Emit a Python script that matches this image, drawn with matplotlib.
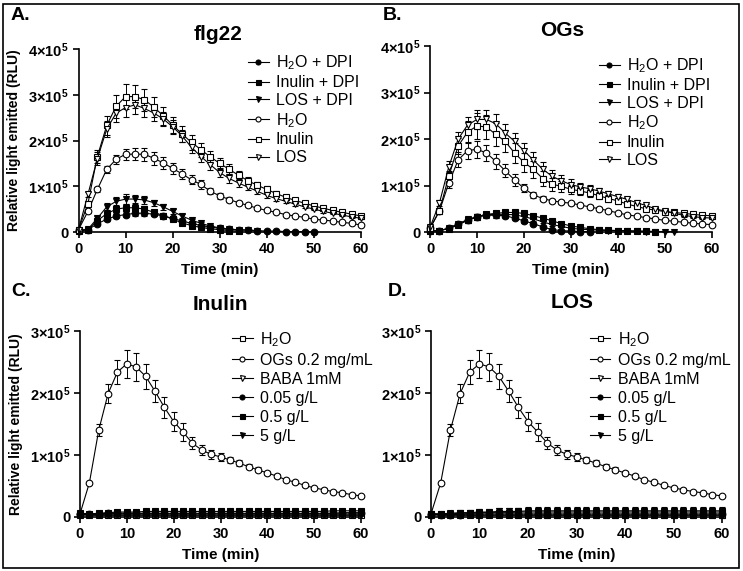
import matplotlib
matplotlib.use('Agg')
import matplotlib.pyplot as plt
from matplotlib.patches import Rectangle
from matplotlib.lines import Line2D

plt.rcParams['font.family'] = ['Liberation Sans', 'DejaVu Sans']
plt.rcParams['mathtext.fontset'] = 'custom'
plt.rcParams['mathtext.rm'] = 'Liberation Sans'
plt.rcParams['mathtext.bf'] = 'Liberation Sans:bold'
plt.rcParams['mathtext.default'] = 'regular'

# time axis (min), values in units of 1e5 RLU
times = list(range(0, 61, 2))

# ---- panel A: flg22 ----
A_h2o_dpi = [0.03, 0.05, 0.18, 0.28, 0.35, 0.38, 0.41, 0.41, 0.39, 0.35, 0.30, 0.24, 0.19,
             0.14, 0.11, 0.08, 0.06, 0.05, 0.04, 0.03, 0.02, 0.02, 0.01, 0.01, 0.01, 0.00]
A_h2o_dpi_err = [0.01, 0.01, 0.03, 0.04, 0.05, 0.05, 0.05, 0.05, 0.05, 0.04, 0.04, 0.03, 0.03,
                 0.02, 0.02, 0.01, 0.01, 0.01, 0.01, 0.01, 0.01, 0.01, 0.01, 0.01, 0.01, 0.01]
A_inu_dpi = [0.03, 0.05, 0.25, 0.40, 0.50, 0.53, 0.53, 0.50, 0.43, 0.36, 0.28, 0.20, 0.14,
             0.10, 0.07, 0.05, 0.03, 0.02]
A_inu_dpi_err = [0.01, 0.01, 0.05, 0.07, 0.08, 0.08, 0.08, 0.07, 0.06, 0.05, 0.04, 0.03, 0.02,
                 0.02, 0.01, 0.01, 0.01, 0.01]
A_los_dpi = [0.03, 0.06, 0.30, 0.55, 0.67, 0.72, 0.72, 0.70, 0.64, 0.55, 0.45, 0.35, 0.26,
             0.19, 0.13, 0.09, 0.06, 0.05, 0.04, 0.03]
A_los_dpi_err = [0.01, 0.01, 0.05, 0.08, 0.10, 0.10, 0.09, 0.08, 0.07, 0.06, 0.05, 0.04, 0.03,
                 0.02, 0.02, 0.01, 0.01, 0.01, 0.01, 0.01]
A_h2o = [0.05, 0.45, 0.93, 1.37, 1.59, 1.70, 1.70, 1.70, 1.61, 1.51, 1.39, 1.27, 1.14, 1.04,
         0.89, 0.79, 0.71, 0.64, 0.58, 0.52, 0.47, 0.43, 0.38, 0.35, 0.32, 0.28, 0.26, 0.24,
         0.21, 0.19, 0.15]
A_h2o_err = [0.01, 0.03, 0.06, 0.08, 0.10, 0.12, 0.13, 0.14, 0.14, 0.13, 0.12, 0.11, 0.10,
             0.09, 0.07, 0.06, 0.05, 0.04, 0.03, 0.03, 0.03, 0.02, 0.02, 0.02, 0.02, 0.02,
             0.01, 0.01, 0.01, 0.01, 0.01]
A_inu = [0.05, 0.62, 1.65, 2.33, 2.75, 2.96, 2.96, 2.89, 2.73, 2.54, 2.34, 2.14, 1.96, 1.80,
         1.64, 1.50, 1.37, 1.24, 1.12, 1.02, 0.93, 0.84, 0.76, 0.69, 0.63, 0.57, 0.52, 0.47,
         0.43, 0.39, 0.35]
A_inu_err = [0.01, 0.05, 0.15, 0.20, 0.25, 0.27, 0.26, 0.24, 0.22, 0.20, 0.18, 0.17, 0.16,
             0.15, 0.14, 0.12, 0.11, 0.10, 0.09, 0.08, 0.07, 0.06, 0.05, 0.05, 0.04, 0.04,
             0.03, 0.03, 0.03, 0.02, 0.02]
A_los = [0.05, 0.82, 1.60, 2.25, 2.60, 2.72, 2.78, 2.70, 2.60, 2.47, 2.30, 2.10, 1.85, 1.65,
         1.47, 1.30, 1.17, 1.07, 0.98, 0.89, 0.80, 0.73, 0.67, 0.61, 0.55, 0.50, 0.45, 0.41,
         0.37, 0.33, 0.30]
A_los_err = [0.01, 0.05, 0.14, 0.18, 0.20, 0.20, 0.19, 0.18, 0.17, 0.16, 0.15, 0.14, 0.13,
             0.12, 0.11, 0.10, 0.09, 0.08, 0.07, 0.06, 0.05, 0.05, 0.04, 0.04, 0.03, 0.03,
             0.03, 0.02, 0.02, 0.02, 0.02]

# ---- panel B: OGs ----
B_h2o_dpi = [0.02, 0.03, 0.08, 0.18, 0.25, 0.32, 0.36, 0.36, 0.35, 0.30, 0.24, 0.18, 0.11,
             0.05, 0.03, 0.02, 0.01, 0.01]
B_h2o_dpi_err = [0.01, 0.01, 0.02, 0.04, 0.05, 0.06, 0.06, 0.06, 0.05, 0.05, 0.04, 0.03, 0.02,
                 0.01, 0.01, 0.01, 0.01, 0.01]
B_inu_dpi = [0.02, 0.03, 0.07, 0.15, 0.25, 0.33, 0.38, 0.40, 0.42, 0.42, 0.40, 0.35, 0.30,
             0.24, 0.18, 0.13, 0.10, 0.07, 0.05, 0.04, 0.03, 0.03, 0.02, 0.02, 0.01]
B_inu_dpi_err = [0.01, 0.01, 0.02, 0.04, 0.05, 0.06, 0.06, 0.06, 0.05, 0.05, 0.04, 0.04, 0.03,
                 0.03, 0.02, 0.02, 0.01, 0.01, 0.01, 0.01, 0.01, 0.01, 0.01, 0.01, 0.01]
B_los_dpi = [0.02, 0.03, 0.08, 0.17, 0.27, 0.33, 0.37, 0.38, 0.38, 0.37, 0.33, 0.28, 0.22,
             0.16, 0.12, 0.08, 0.06, 0.05, 0.04, 0.03, 0.03, 0.02, 0.02, 0.01, 0.01, 0.01, 0.01]
B_los_dpi_err = [0.01, 0.01, 0.02, 0.04, 0.05, 0.06, 0.07, 0.07, 0.06, 0.05, 0.05, 0.04, 0.03,
                 0.03, 0.02, 0.02, 0.01, 0.01, 0.01, 0.01, 0.01, 0.01, 0.01, 0.01, 0.01, 0.01, 0.01]
B_h2o = [0.08, 0.45, 1.05, 1.55, 1.75, 1.78, 1.70, 1.52, 1.32, 1.12, 0.94, 0.80, 0.72, 0.67,
         0.64, 0.62, 0.58, 0.54, 0.50, 0.46, 0.41, 0.37, 0.34, 0.31, 0.28, 0.25, 0.23, 0.21,
         0.19, 0.17, 0.16]
B_h2o_err = [0.02, 0.06, 0.10, 0.16, 0.18, 0.18, 0.17, 0.16, 0.14, 0.12, 0.09, 0.07, 0.05,
             0.04, 0.04, 0.03, 0.03, 0.03, 0.03, 0.02, 0.02, 0.02, 0.02, 0.02, 0.02, 0.02,
             0.01, 0.01, 0.01, 0.01, 0.01]
B_inu = [0.08, 0.45, 1.20, 1.85, 2.15, 2.28, 2.26, 2.10, 1.95, 1.70, 1.50, 1.35, 1.15, 1.03,
         0.98, 0.92, 0.88, 0.84, 0.78, 0.72, 0.67, 0.60, 0.55, 0.50, 0.47, 0.44, 0.42, 0.40,
         0.38, 0.36, 0.35]
B_inu_err = [0.02, 0.05, 0.12, 0.18, 0.24, 0.27, 0.26, 0.25, 0.24, 0.22, 0.20, 0.18, 0.16,
             0.14, 0.12, 0.10, 0.09, 0.08, 0.07, 0.07, 0.06, 0.06, 0.05, 0.05, 0.04, 0.04,
             0.04, 0.03, 0.03, 0.03, 0.03]
B_los = [0.10, 0.62, 1.40, 2.00, 2.30, 2.42, 2.42, 2.33, 2.13, 1.95, 1.75, 1.55, 1.35, 1.20,
         1.10, 1.02, 0.97, 0.93, 0.88, 0.82, 0.76, 0.70, 0.63, 0.57, 0.50, 0.45, 0.40, 0.36,
         0.33, 0.31, 0.30]
B_los_err = [0.02, 0.06, 0.12, 0.16, 0.18, 0.20, 0.20, 0.20, 0.19, 0.18, 0.17, 0.16, 0.15,
             0.14, 0.12, 0.11, 0.09, 0.08, 0.07, 0.06, 0.06, 0.05, 0.05, 0.04, 0.04, 0.04,
             0.03, 0.03, 0.03, 0.03, 0.03]

# ---- panels C/D: Inulin and LOS dose series ----
ogs = [0.05, 0.55, 1.40, 1.99, 2.34, 2.47, 2.42, 2.27, 2.03, 1.77, 1.54, 1.37, 1.19, 1.08,
       1.01, 0.97, 0.92, 0.87, 0.81, 0.76, 0.71, 0.66, 0.60, 0.56, 0.51, 0.47, 0.44, 0.41,
       0.39, 0.36, 0.34]
ogs_err = [0.01, 0.02, 0.10, 0.15, 0.20, 0.22, 0.22, 0.20, 0.18, 0.17, 0.16, 0.14, 0.10,
           0.08, 0.07, 0.06, 0.05, 0.05, 0.04, 0.04, 0.03, 0.03, 0.02, 0.02, 0.02, 0.02,
           0.02, 0.01, 0.01, 0.01, 0.01]
h2o_ctrl = [0.04, 0.03, 0.03, 0.03, 0.03, 0.03, 0.03, 0.03, 0.03, 0.03, 0.03, 0.03, 0.03,
            0.03, 0.03, 0.03, 0.03, 0.03, 0.03, 0.03, 0.03, 0.03, 0.03, 0.03, 0.03, 0.03,
            0.03, 0.03, 0.03, 0.03, 0.03]
baba = [0.04, 0.03, 0.03, 0.03, 0.03, 0.03, 0.03, 0.03, 0.03, 0.03, 0.03, 0.03, 0.03,
        0.03, 0.03, 0.03, 0.03, 0.03, 0.03, 0.03, 0.03, 0.03, 0.03, 0.03, 0.03, 0.03,
        0.03, 0.03, 0.03, 0.03, 0.03]
ctrl_err = [0.01, 0.01, 0.01, 0.01, 0.01, 0.01, 0.01, 0.01, 0.01, 0.01, 0.01, 0.01, 0.01,
            0.01, 0.01, 0.01, 0.01, 0.01, 0.01, 0.01, 0.01, 0.01, 0.01, 0.01, 0.01, 0.01,
            0.01, 0.01, 0.01, 0.01, 0.01]
C_005 = [0.05, 0.05, 0.05, 0.06, 0.06, 0.06, 0.06, 0.06, 0.06, 0.06, 0.06, 0.06, 0.06,
         0.06, 0.06, 0.06, 0.06, 0.06, 0.06, 0.06, 0.06, 0.06, 0.06, 0.06, 0.06, 0.06,
         0.06, 0.06, 0.07, 0.07, 0.07]
C_05 = [0.06, 0.05, 0.06, 0.07, 0.08, 0.08, 0.08, 0.09, 0.09, 0.09, 0.09, 0.09, 0.09,
        0.09, 0.09, 0.09, 0.09, 0.09, 0.09, 0.09, 0.09, 0.09, 0.09, 0.09, 0.09, 0.09,
        0.09, 0.10, 0.10, 0.10, 0.10]
C_5 = [0.05, 0.04, 0.04, 0.05, 0.05, 0.05, 0.05, 0.05, 0.05, 0.05, 0.05, 0.05, 0.05,
       0.05, 0.05, 0.05, 0.05, 0.05, 0.05, 0.05, 0.05, 0.05, 0.05, 0.05, 0.05, 0.05,
       0.05, 0.05, 0.05, 0.05, 0.05]
C_err = [0.02, 0.02, 0.02, 0.02, 0.02, 0.02, 0.03, 0.03, 0.03, 0.03, 0.03, 0.03, 0.03,
         0.03, 0.03, 0.03, 0.03, 0.03, 0.03, 0.03, 0.03, 0.03, 0.03, 0.03, 0.03, 0.03,
         0.03, 0.03, 0.03, 0.03, 0.03]
D_005 = [0.04, 0.04, 0.04, 0.04, 0.05, 0.05, 0.05, 0.05, 0.05, 0.05, 0.05, 0.05, 0.05,
         0.05, 0.05, 0.05, 0.05, 0.05, 0.05, 0.05, 0.05, 0.05, 0.05, 0.05, 0.05, 0.05,
         0.05, 0.05, 0.05, 0.05, 0.05]
D_05 = [0.05, 0.05, 0.05, 0.06, 0.06, 0.07, 0.07, 0.07, 0.07, 0.08, 0.08, 0.08, 0.08,
        0.08, 0.08, 0.08, 0.08, 0.08, 0.08, 0.08, 0.08, 0.08, 0.08, 0.08, 0.08, 0.08,
        0.08, 0.08, 0.08, 0.08, 0.08]
D_5 = [0.05, 0.05, 0.06, 0.07, 0.07, 0.08, 0.08, 0.09, 0.09, 0.09, 0.10, 0.10, 0.10,
       0.10, 0.10, 0.10, 0.10, 0.10, 0.10, 0.10, 0.10, 0.10, 0.10, 0.10, 0.10, 0.10,
       0.10, 0.10, 0.10, 0.10, 0.10]
D_err = [0.02, 0.03, 0.03, 0.04, 0.04, 0.05, 0.05, 0.05, 0.05, 0.06, 0.06, 0.06, 0.06,
         0.06, 0.06, 0.06, 0.06, 0.06, 0.06, 0.06, 0.06, 0.06, 0.06, 0.06, 0.06, 0.06,
         0.06, 0.06, 0.06, 0.06, 0.06]

W, H = 743, 571
fig = plt.figure(figsize=(W / 100, H / 100), dpi=100)


def px(x0, y0, x1, y1):
    # pixel box -> figure fraction [left, bottom, width, height]
    return [x0 / W, 1 - y1 / H, (x1 - x0) / W, (y1 - y0) / H]


def draw(ax, y, err, marker, filled, label):
    n = len(y)
    fc = 'black' if filled else 'white'
    ax.errorbar(times[:n], y, yerr=err, color='black', lw=0.8, elinewidth=0.7, capsize=2,
                capthick=0.7, marker=marker, ms=4.8, mew=0.8, mfc=fc, mec='black',
                clip_on=False)
    return Line2D([], [], color='black', lw=0.8, marker=marker, ms=3.6, mew=0.8,
                  mfc=fc, mec='black', label=label)


def style(ax, ymax):
    ax.set_xlim(0, 60)
    ax.set_ylim(0, ymax)
    ax.set_xticks(range(0, 61, 10))
    ax.set_yticks(range(0, ymax + 1))
    ax.set_yticklabels(['0'] + [f'{k}×10$^{{\\mathbf{{5}}}}$' for k in range(1, ymax + 1)])
    ax.spines['top'].set_visible(False)
    ax.spines['right'].set_visible(False)
    for s in ('left', 'bottom'):
        ax.spines[s].set_linewidth(1.2)
    ax.tick_params(direction='out', length=4, width=1.2, labelsize=10.5, pad=3)
    for lab in ax.get_xticklabels() + ax.get_yticklabels():
        lab.set_fontweight('bold')
    ax.set_xlabel('Time (min)', fontsize=11, fontweight='bold', labelpad=5)


def legend(ax, handles, anchor, spacing):
    ax.legend(handles=handles, loc='upper left', bbox_to_anchor=anchor, frameon=False,
              fontsize=11.5, borderpad=0, handlelength=1.3, handletextpad=0.45,
              labelspacing=spacing, borderaxespad=0)


# A
axA = fig.add_axes(px(78.5, 49, 361, 232))
hA = [draw(axA, A_h2o_dpi, A_h2o_dpi_err, 'o', True, 'H$_2$O + DPI'),
      draw(axA, A_inu_dpi, A_inu_dpi_err, 's', True, 'Inulin + DPI'),
      draw(axA, A_los_dpi, A_los_dpi_err, 'v', True, 'LOS + DPI'),
      draw(axA, A_h2o, A_h2o_err, 'o', False, 'H$_2$O'),
      draw(axA, A_inu, A_inu_err, 's', False, 'Inulin'),
      draw(axA, A_los, A_los_err, 'v', False, 'LOS')]
style(axA, 4)
axA.set_ylabel('Relative light emitted (RLU)', fontsize=10, fontweight='bold', labelpad=5)
legend(axA, hA, (0.6, 0.975), 0.18)

# B
axB = fig.add_axes(px(430, 46, 711.7, 232))
hB = [draw(axB, B_h2o_dpi, B_h2o_dpi_err, 'o', True, 'H$_2$O + DPI'),
      draw(axB, B_inu_dpi, B_inu_dpi_err, 's', True, 'Inulin + DPI'),
      draw(axB, B_los_dpi, B_los_dpi_err, 'v', True, 'LOS + DPI'),
      draw(axB, B_h2o, B_h2o_err, 'o', False, 'H$_2$O'),
      draw(axB, B_inu, B_inu_err, 's', False, 'Inulin'),
      draw(axB, B_los, B_los_err, 'v', False, 'LOS')]
style(axB, 4)
legend(axB, hB, (0.6, 0.945), 0.18)

# C
axC = fig.add_axes(px(80, 331, 361, 517))
hC = [draw(axC, h2o_ctrl, ctrl_err, 's', False, 'H$_2$O'),
      draw(axC, ogs, ogs_err, 'o', False, 'OGs 0.2 mg/mL'),
      draw(axC, baba, ctrl_err, 'v', False, 'BABA 1mM'),
      draw(axC, C_005, C_err, 'o', True, '0.05 g/L'),
      draw(axC, C_05, C_err, 's', True, '0.5 g/L'),
      draw(axC, C_5, C_err, 'v', True, '5 g/L')]
style(axC, 3)
axC.set_ylabel('Relative light emitted (RLU)', fontsize=10, fontweight='bold', labelpad=5)
legend(axC, hC, (0.54, 1.005), 0.25)

# D
axD = fig.add_axes(px(431, 331, 722, 517))
hD = [draw(axD, h2o_ctrl, ctrl_err, 's', False, 'H$_2$O'),
      draw(axD, ogs, ogs_err, 'o', False, 'OGs 0.2 mg/mL'),
      draw(axD, baba, ctrl_err, 'v', False, 'BABA 1mM'),
      draw(axD, D_005, D_err, 'o', True, '0.05 g/L'),
      draw(axD, D_05, D_err, 's', True, '0.5 g/L'),
      draw(axD, D_5, D_err, 'v', True, '5 g/L')]
style(axD, 3)
legend(axD, hD, (0.545, 1.005), 0.25)

for title, x, y in (('flg22', 218, 34), ('OGs', 562, 30), ('Inulin', 220, 304), ('LOS', 572, 303)):
    fig.text(x / W, 1 - y / H, title, fontsize=15, fontweight='bold', ha='center', va='center')

for lab, x, y in (('A.', 11, 15), ('B.', 383, 15), ('C.', 11, 291), ('D.', 388, 291)):
    fig.text(x / W, 1 - y / H, lab, fontsize=14, fontweight='bold', va='center', ha='left')

fig.patches.append(Rectangle((3 / W, 3 / H), (W - 7) / W, (H - 7) / H, transform=fig.transFigure,
                             fill=False, lw=1.2, ec='black'))

fig.savefig('out.png', dpi=100)
